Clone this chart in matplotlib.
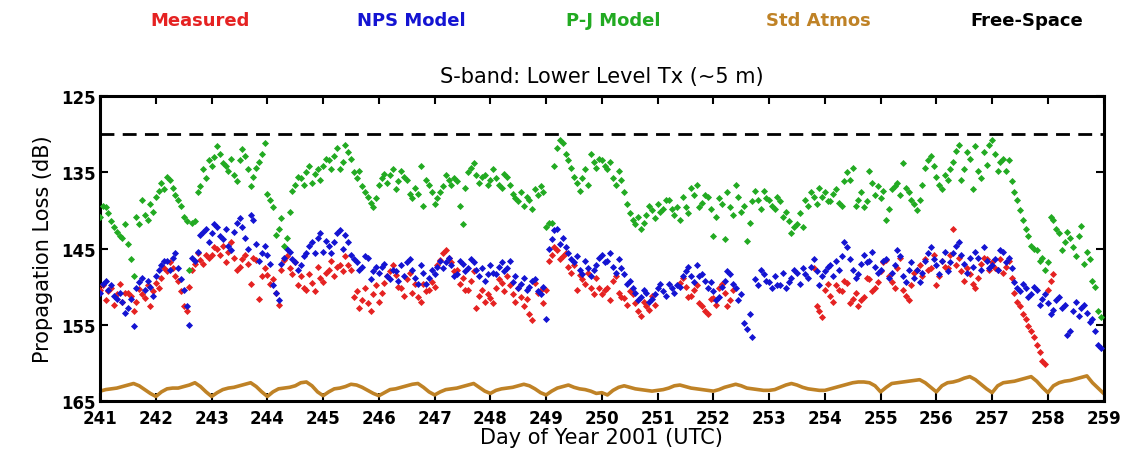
import numpy as np
import matplotlib
matplotlib.use("Agg")
import matplotlib.pyplot as plt

nan = np.nan

# sampling times: every 0.1 day from day 241.0 to 258.9, second pass offset by half a step
days = np.round(np.arange(241.0, 259.0, 0.1), 2)
days_b = np.round(days + 0.05, 2)
# Std Atmos line is sampled the same way but includes 259.0
atmos_days = np.round(np.arange(241.0, 259.05, 0.1), 1)

measured = [
    150.5, 151.8, 150.2, 151.0, 152.0, 150.8, 153.2, 150.3, 151.5, 152.6,  # 241
    149.5, 148.8, 148.0, 147.5, 149.2, 152.5, 150.0, 147.0, 146.5, 145.8,  # 242
    145.8, 145.0, 144.6, 145.5, 146.2, 147.4, 145.8, 149.6, 146.5, 148.6,  # 243
    148.5, 149.0, 152.4, 146.5, 147.5, 146.8, 148.6, 150.4, 149.5, 147.4,  # 244
    149.4, 147.8, 148.6, 147.2, 146.0, 147.8, 150.6, 151.8, 152.2, 151.0,  # 245
    152.0, 149.5, 148.0, 148.5, 150.2, 149.0, 150.8, 151.3, 149.6, 150.5,  # 246
    150.0, 146.5, 145.2, 146.8, 147.8, 148.8, 150.5, 148.0, 151.2, 152.0,  # 247
    151.5, 150.2, 149.5, 148.6, 151.0, 150.2, 152.6, 153.6, 149.5, 150.4,  # 248
    150.5, 145.8, 145.2, 146.0, 147.4, 147.2, 148.5, 149.6, 150.2, 148.8,  # 249
    151.0, 150.2, 149.2, 150.8, 151.5, 150.6, 152.2, 153.8, 152.5, 151.2,  # 250
    nan, nan, nan, nan, 149.5, 150.0, 151.2, 149.8, 152.6, 153.6,          # 251
    151.5, 150.2, 150.8, 151.8, nan, nan, nan, nan, nan, nan,              # 252
    nan, nan, nan, nan, nan, nan, nan, nan, 147.6, 153.2,                  # 253
    150.4, 151.2, 149.8, 150.6, 149.5, 151.6, 152.6, 151.4, 149.0, 150.2,  # 254
    148.0, 146.5, 149.4, 147.6, 150.4, 151.8, 148.2, 147.2, 146.4, 147.6,  # 255
    149.8, 146.6, 147.6, 142.4, 146.2, 149.2, 148.4, 150.2, 147.0, 146.4,  # 256
    146.8, 147.8, 148.2, 146.6, 150.8, 152.6, 154.2, 155.8, 157.6, 159.8,  # 257
    150.5, 148.4, nan, nan, nan, nan, nan, nan, nan, nan,                  # 258
]
measured_b = [
    149.8, 150.6, 152.4, 149.6, 150.8, 151.2, 152.0, 151.0, 149.8, 150.6,
    150.2, 147.6, 146.8, 148.6, 150.6, 153.2, 147.8, 145.6, 147.0, 146.2,
    144.8, 145.8, 146.8, 144.2, 147.8, 146.4, 147.0, 146.2, 151.6, 147.6,
    149.6, 150.8, 147.8, 146.0, 148.4, 149.8, 150.2, 148.4, 150.6, 148.8,
    148.2, 146.6, 147.4, 148.0, 147.2, 151.4, 152.8, 150.2, 153.2, 149.8,
    150.8, 148.6, 147.2, 150.0, 151.2, 148.2, 149.6, 152.0, 150.6, 149.4,
    147.2, 145.6, 146.2, 148.0, 149.6, 150.4, 149.2, 152.8, 150.4, 151.0,
    152.2, 149.0, 150.6, 149.8, 152.0, 151.4, 151.6, 154.4, 150.8, 152.2,
    146.6, 144.8, 146.4, 145.6, 148.2, 150.4, 149.0, 148.2, 151.0, 150.2,
    150.4, 151.8, 148.6, 151.4, 152.4, 151.0, 153.2, 152.0, 153.0, 152.4,
    nan, nan, nan, nan, 148.8, 151.4, 150.4, 152.2, 153.2, 151.6,
    152.4, 149.6, 152.6, 150.4, nan, nan, nan, nan, nan, nan,
    nan, nan, nan, nan, nan, nan, nan, nan, 152.6, 154.0,
    149.6, 152.0, 150.4, 149.2, 152.2, 150.8, 151.8, 148.8, 150.6, 149.4,
    146.8, 148.6, 150.2, 146.2, 151.2, 149.8, 147.8, 148.6, 147.8, 145.8,
    148.6, 147.4, 145.8, 147.2, 148.0, 147.6, 149.6, 148.8, 146.2, 147.8,
    147.6, 146.4, 147.4, 148.8, 152.0, 153.6, 155.2, 156.6, 158.6, 160.2,
    149.2, nan, nan, nan, nan, nan, nan, nan, nan, nan,
]

nps_model = [
    150.8, 149.2, 149.8, 151.6, 152.0, 152.8, 155.2, 149.4, 150.4, 150.0,  # 241
    148.6, 147.2, 146.6, 146.2, 147.6, 150.4, 155.0, 146.6, 143.2, 142.4,  # 242
    143.0, 142.2, 143.8, 144.6, 142.8, 141.0, 143.6, 140.6, 144.4, 145.6,  # 243
    145.8, 149.8, 151.8, 146.2, 145.4, 146.8, 147.2, 145.6, 144.2, 143.6,  # 244
    145.4, 144.6, 144.2, 142.6, 143.2, 145.8, 146.8, 147.4, 146.2, 148.0,  # 245
    148.2, 147.0, 149.0, 148.0, 147.2, 146.8, 147.8, 149.6, 148.2, 148.8,  # 246
    148.4, 146.6, 146.8, 147.2, 148.4, 147.0, 147.6, 146.8, 148.6, 149.2,  # 247
    147.2, 148.4, 146.8, 147.6, 149.4, 150.2, 148.8, 150.0, 149.0, 151.0,  # 248
    154.2, 143.8, 142.4, 143.6, 145.6, 146.8, 147.8, 146.6, 148.6, 147.2,  # 249
    145.8, 146.6, 147.4, 146.4, 148.4, 149.2, 150.8, 151.4, 150.8, 151.6,  # 250
    150.2, 150.6, 149.6, 150.8, 150.0, 148.0, 148.6, 147.2, 148.4, 150.2,  # 251
    150.6, 151.4, 149.2, 148.4, 150.2, 151.0, 155.6, 156.6, 149.8, 148.4,  # 252
    149.4, 148.6, 149.8, 150.2, 148.8, 148.2, 147.6, 148.8, 146.4, 149.8,  # 253
    148.0, 147.2, 146.6, 146.0, 144.8, 147.8, 148.4, 145.8, 146.6, 147.4,  # 254
    147.8, 146.4, 148.2, 145.2, 148.6, 147.8, 148.8, 149.4, 146.6, 144.8,  # 255
    147.2, 146.6, 148.0, 145.6, 144.2, 147.0, 146.2, 145.4, 147.8, 146.6,  # 256
    147.2, 147.8, 145.4, 146.2, 149.4, 150.6, 150.2, 151.0, 150.4, 151.6,  # 257
    152.2, 153.0, 151.4, 152.4, 155.8, 152.0, 152.8, 153.4, 154.2, 157.6,  # 258
]
nps_model_b = [
    149.6, 150.4, 151.2, 150.8, 153.4, 151.6, 150.2, 148.8, 149.2, 151.2,
    147.8, 146.6, 147.8, 145.6, 149.0, 152.6, 146.2, 145.4, 142.8, 144.2,
    141.8, 143.4, 142.4, 145.2, 141.6, 142.2, 145.0, 141.2, 146.6, 144.6,
    147.0, 150.8, 147.0, 145.0, 146.4, 147.8, 146.0, 144.6, 145.6, 143.0,
    144.0, 145.6, 143.0, 145.0, 144.2, 146.4, 147.8, 146.0, 149.0, 147.4,
    147.4, 148.6, 147.8, 149.2, 148.6, 146.4, 148.8, 147.2, 149.6, 147.8,
    147.4, 147.6, 146.2, 148.6, 146.6, 148.0, 146.4, 147.8, 147.6, 148.4,
    148.2, 147.4, 148.0, 146.6, 148.6, 149.6, 150.4, 149.2, 150.6, 150.0,
    145.0, 142.6, 144.4, 144.8, 146.4, 146.0, 148.4, 147.6, 147.8, 146.2,
    146.8, 145.6, 148.2, 147.6, 149.6, 150.2, 151.8, 150.4, 152.0, 151.0,
    149.6, 151.2, 150.2, 149.8, 148.6, 147.4, 149.4, 148.6, 149.2, 149.4,
    151.8, 150.0, 148.0, 149.6, 151.8, 154.8, 153.6, 149.0, 147.8, 149.2,
    150.2, 149.8, 148.2, 149.4, 147.8, 149.6, 148.4, 147.4, 148.0, 148.6,
    147.4, 148.6, 147.8, 144.2, 146.4, 148.8, 147.0, 146.8, 145.4, 148.2,
    146.6, 148.8, 147.2, 146.0, 149.4, 146.8, 147.8, 148.2, 145.6, 146.4,
    148.4, 145.4, 146.8, 144.6, 145.8, 148.2, 147.4, 146.2, 144.8, 147.6,
    146.4, 145.2, 146.8, 147.6, 150.2, 149.6, 151.4, 150.0, 152.4, 151.0,
    153.6, 151.8, 152.8, 156.4, 153.2, 153.8, 152.4, 154.6, 155.8, 158.0,
]

pj_model = [
    140.8, 139.6, 141.4, 142.8, 143.6, 144.4, 148.6, 141.8, 140.6, 139.2,  # 241
    138.2, 136.4, 135.6, 137.0, 138.6, 140.8, 147.8, 141.4, 136.8, 135.8,  # 242
    134.2, 131.6, 133.8, 134.8, 135.4, 133.4, 132.8, 136.8, 134.4, 132.6,  # 243
    137.8, 139.6, 142.4, 144.6, 140.2, 136.6, 135.8, 135.0, 136.4, 134.6,  # 244
    134.2, 133.4, 132.8, 134.6, 131.4, 133.2, 135.8, 136.8, 138.2, 139.6,  # 245
    136.6, 135.2, 135.4, 137.2, 134.8, 136.0, 138.4, 137.8, 139.4, 136.6,  # 246
    139.2, 137.6, 135.4, 136.6, 136.2, 141.8, 135.0, 133.8, 136.4, 135.4,  # 247
    136.0, 135.8, 137.0, 135.6, 137.8, 138.8, 139.4, 138.6, 137.2, 136.8,  # 248
    142.2, 141.6, 131.8, 131.2, 133.4, 135.6, 137.4, 134.6, 132.6, 134.4,  # 249
    133.4, 134.6, 135.8, 134.8, 137.6, 140.4, 141.8, 142.4, 140.6, 140.0,  # 250
    139.2, 139.8, 138.6, 140.6, 141.2, 139.6, 137.0, 136.6, 139.0, 138.2,  # 251
    143.4, 138.4, 143.8, 139.6, 136.6, 140.2, 144.0, 138.8, 138.6, 137.4,  # 252
    138.6, 139.8, 138.8, 140.2, 143.0, 141.8, 142.2, 139.4, 138.2, 137.0,  # 253
    137.6, 138.8, 137.2, 139.4, 135.0, 134.4, 138.6, 139.6, 134.8, 138.0,  # 254
    138.4, 141.2, 137.2, 136.4, 133.8, 137.6, 139.2, 138.6, 134.4, 132.8,  # 255
    135.6, 137.2, 136.0, 133.6, 131.4, 134.6, 133.2, 131.6, 135.8, 134.0,  # 256
    130.8, 134.8, 133.2, 133.4, 137.6, 140.0, 142.4, 144.6, 145.2, 146.2,  # 257
    146.8, 141.2, 143.0, 144.2, 143.6, 146.0, 142.0, 145.4, 149.2, 153.2,  # 258
]
pj_model_b = [
    139.4, 140.4, 142.2, 143.4, 141.8, 146.4, 140.8, 138.6, 141.2, 140.2,
    137.4, 137.2, 136.0, 138.0, 139.4, 141.4, 141.6, 137.6, 134.6, 133.4,
    133.0, 132.6, 134.2, 133.2, 136.2, 132.0, 134.6, 135.6, 133.6, 131.2,
    138.6, 143.2, 141.0, 143.6, 137.4, 135.6, 136.6, 134.2, 135.2, 136.0,
    133.2, 134.6, 131.8, 133.6, 132.4, 135.0, 134.8, 137.6, 139.0, 138.4,
    135.8, 136.4, 134.6, 136.2, 135.6, 137.8, 137.0, 134.2, 136.0, 137.6,
    138.4, 136.8, 136.0, 135.8, 139.4, 137.0, 134.4, 135.4, 135.6, 136.6,
    134.6, 136.6, 135.2, 136.6, 138.4, 137.6, 138.2, 139.8, 138.0, 137.6,
    141.6, 134.2, 130.8, 132.6, 134.4, 136.4, 135.8, 136.6, 133.6, 133.2,
    134.2, 133.6, 136.6, 136.0, 139.2, 141.2, 140.8, 141.6, 139.4, 141.0,
    140.2, 138.6, 139.8, 139.6, 138.2, 140.4, 138.0, 139.6, 138.0, 139.8,
    140.8, 139.2, 137.6, 140.6, 138.2, 139.4, 141.6, 137.4, 139.8, 138.4,
    139.4, 138.2, 140.8, 141.4, 142.2, 140.4, 138.6, 137.6, 139.2, 138.2,
    138.8, 137.8, 139.0, 136.2, 136.0, 139.4, 137.6, 138.8, 136.4, 136.8,
    137.4, 139.8, 136.8, 138.0, 137.0, 138.6, 140.0, 136.6, 133.4, 134.2,
    136.6, 135.4, 134.6, 132.2, 136.0, 132.4, 137.2, 134.8, 132.4, 131.4,
    132.6, 133.6, 134.8, 136.2, 138.6, 141.2, 143.4, 145.0, 146.6, 147.8,
    140.8, 142.4, 145.2, 142.8, 144.8, 143.4, 147.0, 146.4, 150.0, 154.0,
]

std_atmos = [
    163.7, 163.5, 163.4, 163.3, 163.1, 162.9, 162.7, 163.0, 163.5, 164.0,  # 241
    164.4, 163.8, 163.4, 163.3, 163.3, 163.1, 162.9, 162.6, 163.1, 163.8,  # 242
    164.4, 163.9, 163.5, 163.3, 163.2, 163.0, 162.8, 162.6, 163.1, 163.8,  # 243
    164.4, 163.8, 163.4, 163.3, 163.2, 163.0, 162.6, 162.5, 163.0, 163.8,  # 244
    164.3, 163.8, 163.4, 163.3, 163.1, 162.8, 162.9, 163.2, 163.6, 164.0,  # 245
    164.3, 163.9, 163.5, 163.4, 163.2, 163.0, 162.8, 162.7, 163.2, 163.8,  # 246
    164.2, 163.8, 163.5, 163.4, 163.3, 163.1, 162.9, 162.7, 163.2, 163.7,  # 247
    164.0, 163.6, 163.4, 163.3, 163.2, 163.0, 162.8, 163.0, 163.4, 163.9,  # 248
    164.2, 163.7, 163.3, 163.1, 162.9, 163.2, 163.4, 163.5, 163.7, 164.0,  # 249
    163.9, 164.2, 163.6, 163.2, 163.0, 163.2, 163.4, 163.5, 163.6, 163.7,  # 250
    163.6, 163.5, 163.3, 163.0, 162.9, 163.1, 163.3, 163.4, 163.5, 163.6,  # 251
    163.7, 163.5, 163.2, 163.0, 162.8, 163.0, 163.3, 163.4, 163.5, 163.6,  # 252
    163.6, 163.5, 163.2, 162.9, 162.7, 162.9, 163.2, 163.4, 163.5, 163.6,  # 253
    163.6, 163.4, 163.2, 163.0, 162.8, 162.6, 162.5, 162.5, 162.6, 163.0,  # 254
    163.8, 163.2, 162.7, 162.6, 162.5, 162.4, 162.3, 162.2, 162.6, 163.2,  # 255
    163.8, 163.0, 162.6, 162.5, 162.3, 162.0, 161.8, 162.2, 162.8, 163.4,  # 256
    163.9, 163.0, 162.6, 162.5, 162.4, 162.2, 162.0, 161.8, 162.4, 163.2,  # 257
    163.9, 163.0, 162.6, 162.4, 162.3, 162.1, 161.9, 161.7, 162.6, 163.3,  # 258
    164.0,
]

free_space = 130.0

legend_names = ["Measured", "NPS Model", "P-J Model", "Std Atmos", "Free-Space"]
legend_colors = ["#e52222", "#1414d2", "#22aa22", "#bf8226", "black"]
legend_x = [0.178, 0.366, 0.545, 0.727, 0.913]

plt.rcParams['font.family'] = ['DejaVu Sans']

fig = plt.figure(figsize=(11.25, 4.6), dpi=100)
ax = fig.add_axes([0.089, 0.126, 0.892, 0.663])

for t, vals, col in [(days, measured, legend_colors[0]), (days_b, measured_b, legend_colors[0]),
                     (days, nps_model, legend_colors[1]), (days_b, nps_model_b, legend_colors[1]),
                     (days, pj_model, legend_colors[2]), (days_b, pj_model_b, legend_colors[2])]:
    ax.scatter(t, vals, s=13, marker='D', color=col, linewidths=0, zorder=3)
ax.plot(atmos_days, std_atmos, color=legend_colors[3], lw=2.6, zorder=2)
ax.axhline(free_space, color='black', lw=2, dashes=(5, 3), zorder=2)

ax.set_xlim(241, 259)
ax.set_ylim(165, 125)
ax.set_xticks(range(241, 260))
ax.set_yticks([125, 135, 145, 155, 165])
ax.tick_params(direction='in', length=6, width=1.5, top=True, right=True,
               labelsize=12)
ax.tick_params(axis='x', pad=6)
ax.tick_params(axis='y', pad=3)
for lab in ax.get_xticklabels() + ax.get_yticklabels():
    lab.set_fontweight('bold')
for sp in ax.spines.values():
    sp.set_linewidth(2.2)

ax.set_title('S-band: Lower Level Tx (~5 m)', fontsize=15, pad=10)
ax.set_xlabel('Day of Year 2001 (UTC)', fontsize=15, labelpad=0)
ax.set_ylabel('Propagation Loss (dB)', fontsize=15, labelpad=6)

for name, col, xp in zip(legend_names, legend_colors, legend_x):
    fig.text(xp, 0.955, name, color=col, fontsize=13, fontweight='bold',
             ha='center', va='center')

fig.savefig('out.png', dpi=100, facecolor='white')
